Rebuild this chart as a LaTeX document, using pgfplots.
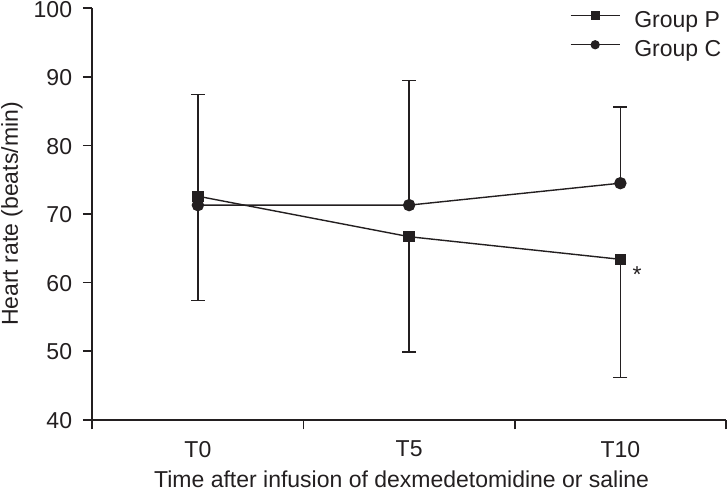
\documentclass[border=0pt]{standalone}
\usepackage{fontspec}
\setmainfont{Liberation Sans}
\usepackage{pgfplots}
\pgfplotsset{compat=1.18}
\definecolor{ink}{HTML}{231F20}
\newcommand{\bigfont}{\fontsize{23}{27}\selectfont}
\begin{document}
\begin{tikzpicture}
\begin{axis}[
  name=ax,
  scale only axis,
  width=634pt, height=411.7pt,
  xmin=0, xmax=3, ymin=40, ymax=100,
  axis x line=bottom, axis y line=left,
  axis line style={-, line width=1.6pt, color=ink},
  every tick/.style={line width=1.6pt, color=ink},
  tick align=outside,
  major tick length=9.5pt,
  xtick={0,1,2,3}, xticklabels={},
  extra x ticks={0.5,1.5,2.5},
  extra x tick labels={T0,T5,T10},
  extra x tick style={major tick length=0pt},
  ytick={40,50,60,70,80,90,100},
  /pgf/number format/assume math mode=true,
  font=\bigfont,
  tick label style={font=\bigfont},
  label style={font=\bigfont},
  xticklabel style={anchor=north, inner sep=0pt, yshift=-21pt, color=ink},
  yticklabel style={anchor=east, inner sep=0pt, xshift=-10.5pt, yshift=-0.8pt, color=ink},
  xlabel={Time after infusion of dexmedetomidine or saline},
  ylabel={Heart rate (beats/min)},
  xlabel style={at={(axis description cs:0.5,0)}, anchor=base, inner sep=0pt, yshift=-67.5pt, xshift=-7.5pt, color=ink},
  ylabel style={at={(axis description cs:0,0.5)}, anchor=base, inner sep=0pt, yshift=74.3pt, color=ink},
  clip=false,
  legend cell align=left,
  legend style={at={(axis description cs:0.7535,0.9959)}, anchor=north west, draw=none, fill=none,
    inner sep=0pt, column sep=14pt, row sep=7.4pt,
    nodes={inner sep=0pt, text height=17pt, text depth=5pt, text=ink},
    font=\bigfont},
  legend image code/.code={\draw[mark repeat=2, mark phase=2, #1, mark size=3.9pt] plot coordinates {(0pt,5.8pt) (24.5pt,5.8pt) (49pt,5.8pt)};},
]
% Group P: mean with downward error (SD)
\addplot[color=ink, line width=1.4pt, mark=square*, mark size=5pt,
  error bars/.cd, y dir=minus, y explicit,
  error bar style={line width=1.4pt, color=ink},
  error mark options={rotate=90, mark size=7pt, line width=1.4pt, color=ink}]
  coordinates {
    (0.5,72.6) -= (0,15.2)
    (1.5,66.7) -= (0,16.8)
    (2.5,63.4) -= (0,17.2)
  };
\addlegendentry{Group P}
% Group C: mean with upward error (SD)
\addplot[color=ink, line width=1.4pt, mark=*, mark size=5.5pt,
  error bars/.cd, y dir=plus, y explicit,
  error bar style={line width=1.4pt, color=ink},
  error mark options={rotate=90, mark size=7pt, line width=1.4pt, color=ink}]
  coordinates {
    (0.5,71.3) += (0,16.1)
    (1.5,71.3) += (0,18.2)
    (2.5,74.5) += (0,11.1)
  };
\addlegendentry{Group C}
\node[anchor=base, inner sep=0pt, xshift=16.7pt, yshift=-22.7pt, text=ink, font=\bigfont] at (axis cs:2.5,63.4) {*};
\end{axis}
\pgfresetboundingbox
\path ([shift={(-92.3pt,-73pt)}]ax.south west) rectangle ([shift={(1pt,8.3pt)}]ax.north east);
\end{tikzpicture}
\end{document}
